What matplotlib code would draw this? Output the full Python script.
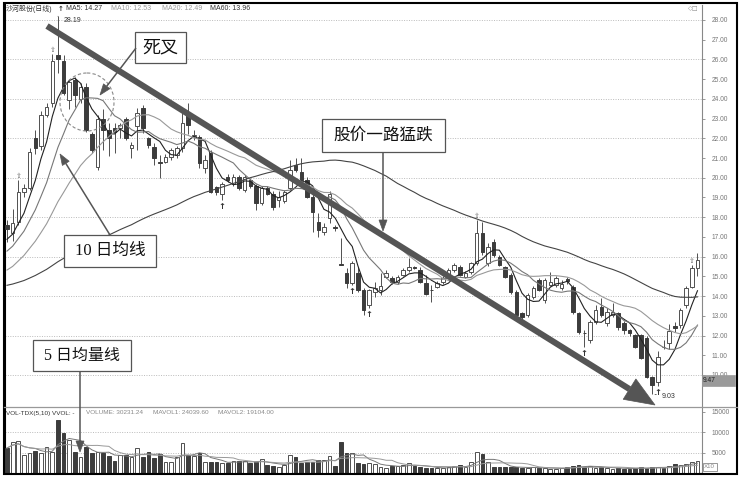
import numpy as np
import pandas as pd
import matplotlib
matplotlib.use('Agg')
import matplotlib.pyplot as plt
from matplotlib.patches import Rectangle, Ellipse, Polygon
from matplotlib.lines import Line2D
from matplotlib.transforms import Affine2D

plt.rcParams['font.family'] = ['Liberation Sans', 'Noto Sans CJK SC', 'DejaVu Sans']

# closes before the first visible day (only used to warm up the moving averages)
lead_close = [13.9, 14.1, 14.0, 13.8, 13.7, 13.9, 14.2, 14.4, 14.3, 14.1,
              14.0, 14.2, 14.5, 14.6, 14.4, 14.2, 14.0, 13.9, 14.1, 14.3,
              14.5, 14.4, 14.2, 14.0, 13.8, 13.9, 14.1, 14.3, 14.4, 14.2,
              14.0, 14.1, 14.3, 14.4, 14.2, 14.1, 14.0, 14.2, 14.4, 14.3,
              14.0, 13.8, 13.9, 14.1, 14.3, 14.5, 14.6, 14.8, 14.7, 14.9,
              15.2, 15.5, 15.7, 15.9, 16.1, 16.4, 16.6, 16.9, 17.1]

# daily OHLC, 沙河股份
opens = [17.60, 17.20, 17.75, 19.30, 19.50, 22.00, 21.60, 23.20, 23.80, 26.20,
         25.90, 23.95, 24.95, 24.00, 24.60, 22.20, 20.55, 23.00, 22.40, 22.50,
         22.50, 23.00, 21.50, 22.60, 23.55, 22.00, 21.55, 20.80, 20.80, 21.05,
         21.15, 21.50, 23.20, 22.10, 22.05, 20.50, 21.25, 19.55, 19.20, 20.05,
         19.70, 20.05, 19.40, 19.90, 19.60, 18.70, 19.50, 19.20, 18.87, 18.80,
         19.50, 20.65, 20.30, 19.90, 19.00, 17.75, 17.25, 17.95, 17.50, 15.65,
         15.17, 14.66, 15.17, 14.30, 13.55, 14.20, 14.30, 14.96, 14.90, 14.70,
         15.07, 15.30, 15.47, 15.30, 14.67, 14.32, 14.46, 14.70, 15.07, 15.30,
         15.47, 14.96, 15.20, 15.68, 17.20, 15.68, 16.75, 15.98, 15.47, 15.07,
         14.20, 13.14, 13.04, 13.95, 14.80, 13.80, 14.56, 14.56, 14.40, 14.85,
         14.46, 13.14, 12.15, 11.77, 12.69, 13.45, 12.64, 13.04, 13.14, 12.64,
         12.28, 12.03, 12.03, 11.87, 9.90, 9.65, 11.42, 11.62, 12.48, 12.53,
         13.55, 14.46, 15.42]
highs = [17.85, 18.40, 19.90, 19.70, 21.50, 22.40, 23.40, 23.80, 26.30, 28.19,
         26.20, 25.00, 25.10, 24.80, 24.80, 22.30, 23.20, 23.50, 22.80, 22.80,
         22.80, 23.10, 21.80, 23.55, 23.70, 22.05, 21.75, 21.15, 21.20, 21.50,
         21.60, 23.50, 23.80, 22.40, 22.15, 21.15, 21.40, 19.60, 19.80, 20.20,
         20.20, 20.15, 20.15, 20.00, 19.70, 19.60, 19.60, 19.35, 19.35, 19.40,
         20.90, 21.00, 21.00, 20.05, 19.20, 18.20, 17.70, 19.35, 17.60, 16.95,
         15.40, 15.80, 15.45, 14.40, 14.35, 14.70, 15.17, 15.30, 15.00, 15.05,
         15.40, 15.93, 15.55, 15.47, 15.07, 14.56, 14.75, 15.00, 15.40, 15.70,
         15.60, 15.25, 15.75, 17.86, 17.76, 16.70, 16.90, 16.10, 15.55, 15.15,
         14.30, 13.20, 14.15, 14.50, 14.90, 14.90, 15.20, 15.00, 14.80, 14.95,
         14.56, 13.20, 12.30, 12.80, 13.55, 13.90, 13.40, 13.65, 13.20, 12.75,
         12.35, 12.10, 12.10, 11.95, 9.95, 11.20, 11.75, 12.60, 12.70, 13.40,
         14.50, 15.60, 16.20]
lows = [16.75, 16.80, 17.60, 19.00, 19.40, 21.20, 21.40, 23.10, 23.60, 25.30,
        24.20, 23.50, 23.60, 23.80, 22.30, 21.25, 20.40, 21.40, 21.10, 21.25,
        22.00, 21.90, 21.00, 21.40, 22.25, 21.50, 20.65, 20.00, 20.75, 20.90,
        21.00, 21.30, 22.20, 21.90, 20.50, 20.25, 19.25, 19.10, 18.87, 19.80,
        19.60, 19.40, 19.30, 19.50, 18.35, 18.60, 19.10, 18.35, 18.50, 18.70,
        19.40, 20.30, 19.80, 18.95, 17.25, 17.00, 17.10, 17.70, 17.30, 15.58,
        14.40, 14.55, 14.20, 13.04, 13.40, 13.95, 14.05, 14.90, 14.60, 14.60,
        15.00, 15.20, 15.35, 14.65, 14.05, 13.70, 14.40, 14.60, 15.00, 15.20,
        15.00, 14.90, 15.10, 15.60, 16.10, 15.55, 16.00, 15.55, 14.90, 14.10,
        12.95, 12.79, 12.95, 13.85, 14.25, 13.65, 14.50, 14.45, 14.30, 14.60,
        13.10, 12.10, 11.40, 11.60, 12.60, 12.95, 12.50, 12.95, 12.30, 12.10,
        12.00, 11.35, 10.80, 9.85, 9.03, 9.45, 11.30, 11.30, 12.20, 12.40,
        13.40, 14.40, 15.00]
closes = [17.40, 17.70, 19.30, 19.50, 21.30, 21.50, 23.20, 23.60, 25.90, 26.00,
          24.30, 24.85, 24.20, 24.60, 22.40, 21.40, 23.00, 22.40, 22.00, 22.30,
          22.65, 22.00, 21.65, 23.30, 22.50, 21.66, 21.00, 20.75, 21.05, 21.40,
          21.50, 22.80, 22.65, 22.15, 20.75, 20.90, 19.30, 19.30, 19.70, 19.90,
          20.05, 19.50, 20.05, 19.60, 18.70, 19.50, 19.20, 18.50, 19.00, 19.30,
          20.40, 20.40, 19.90, 19.00, 18.25, 17.35, 17.50, 19.20, 17.45, 15.60,
          14.66, 15.68, 14.30, 13.30, 14.30, 14.40, 14.50, 15.17, 14.70, 14.96,
          15.32, 15.47, 15.43, 14.70, 14.10, 14.30, 14.66, 14.90, 15.32, 15.57,
          15.07, 15.17, 15.68, 17.20, 16.24, 16.50, 16.10, 15.60, 14.95, 14.20,
          13.04, 12.94, 14.05, 14.40, 14.30, 14.80, 14.70, 14.90, 14.60, 14.75,
          13.20, 12.18, 12.13, 12.69, 13.30, 13.04, 13.20, 13.19, 12.43, 12.28,
          12.11, 11.40, 10.86, 9.90, 9.50, 10.90, 11.40, 12.25, 12.38, 13.30,
          14.40, 15.42, 15.85]
volumes = [6100, 7500, 7800, 4400, 4900, 5300, 4900, 6300, 5100, 12900,
           9750, 8050, 5100, 3900, 6300, 4900, 5100, 4900, 4150, 2900,
           4400, 4400, 3900, 6100, 3900, 5100, 3650, 4650, 2700, 2700,
           3900, 7300, 4400, 4150, 4900, 2700, 2700, 2700, 2450, 2450,
           2900, 2900, 2900, 2450, 2700, 3400, 1950, 1700, 1460, 1950,
           4400, 3900, 2450, 2700, 2700, 3170, 3170, 4150, 1700, 7560,
           4900, 4900, 2450, 2200, 2450, 2200, 1460, 1200, 1700, 1700,
           1950, 2450, 1700, 1460, 1200, 1200, 1200, 1200, 1460, 1700,
           1950, 1460, 2700, 5100, 4650, 2700, 1460, 1460, 1460, 1460,
           1460, 1200, 1200, 1460, 1200, 1200, 1000, 1000, 1200, 1460,
           1700, 1950, 1460, 1700, 1200, 1460, 1200, 1000, 1200, 1000,
           1000, 1200, 1460, 1200, 1400, 1500, 1284.2, 1700, 2100, 1900,
           2300, 2696.676, 3023.124]

# system signal marks
buy_marks = [38, 61, 64, 102, 115]
top_marks = [2, 8, 83, 121]

ma_periods = [5, 10, 20, 60]
ma_colors = ['#222222', '#777777', '#999999', '#444444']

n = len(closes)
x = np.arange(n)
full = pd.Series(lead_close + closes)
mas = {p: full.rolling(p).mean().to_numpy()[len(lead_close):] for p in ma_periods}
vol = pd.Series(volumes)
mavol1 = vol.rolling(5, min_periods=1).mean().to_numpy()
mavol2 = vol.rolling(10, min_periods=1).mean().to_numpy()

W, H = 739, 478
fig = plt.figure(figsize=(W / 100, H / 100), dpi=100)
fig.patch.set_facecolor('white')
# pixel space with y pointing down, for the overlay notes
px = Affine2D().scale(1 / W, -1 / H).translate(0, 1) + fig.transFigure


def rect(x0, y0, x1, y1):
    return [x0 / W, 1 - y1 / H, (x1 - x0) / W, (y1 - y0) / H]


ax = fig.add_axes(rect(5, 5, 702, 407))
axv = fig.add_axes(rect(5, 407, 702, 473))

DARK = '#3c3c3c'
EDGE = '#505050'
bw = 0.62

# candles
for i in range(n):
    o, h, l, c = opens[i], highs[i], lows[i], closes[i]
    up = c >= o
    ax.vlines(i, l, h, color=EDGE, lw=0.7, zorder=2)
    bot, top = min(o, c), max(o, c)
    ax.add_patch(Rectangle((i - bw / 2, bot), bw, max(top - bot, 0.02),
                           facecolor='white' if up else DARK,
                           edgecolor=EDGE if up else DARK, lw=0.7, zorder=3))

for p, col in zip(ma_periods, ma_colors):
    ax.plot(x, mas[p], color=col, lw=0.8, zorder=4)

for i in buy_marks:
    ax.text(i, lows[i] - 0.1, '↑', ha='center', va='top', fontsize=6,
            fontweight='bold', color='#333333', family='DejaVu Sans', zorder=5)
for i in top_marks:
    ax.text(i, highs[i] + 0.05, '⇧', ha='center', va='bottom', fontsize=5,
            color='#666666', family='DejaVu Sans', zorder=5)

hi = int(np.argmax(highs))
lo = int(np.argmin(lows))
ax.annotate(f'{highs[hi]:.2f}', xy=(hi, highs[hi]), xytext=(4, -3),
            textcoords='offset points', fontsize=5, color='#333333', va='center',
            arrowprops=dict(arrowstyle='-', lw=0.5, color='#333333'))
ax.annotate(f'{lows[lo]:.2f}', xy=(lo, lows[lo]), xytext=(7, -1.5),
            textcoords='offset points', fontsize=5, color='#333333', va='center',
            arrowprops=dict(arrowstyle='-', lw=0.5, color='#333333'))

ax.set_xlim(-0.35, 122.8)
ax.set_ylim(8.375, 28.76)
for g in range(10, 29, 2):
    ax.axhline(g, color='#bbbbbb', lw=0.7, ls=(0, (1, 1.5)), zorder=1)
ax.set_yticks(range(10, 29))
ax.set_yticklabels([f'{t:.2f}' for t in range(10, 29)])

# volume panel
for i in range(n):
    up = closes[i] >= opens[i]
    axv.add_patch(Rectangle((i - 0.33, 0), 0.66, volumes[i],
                            facecolor='white' if up else DARK,
                            edgecolor=EDGE if up else DARK, lw=0.7, zorder=3))
axv.plot(x, mavol1, color='#777777', lw=0.7, zorder=4)
axv.plot(x, mavol2, color='#999999', lw=0.7, zorder=4)
axv.set_xlim(-0.35, 122.8)
axv.set_ylim(0, 16100)
for g in (5000, 10000):
    axv.axhline(g, color='#bbbbbb', lw=0.7, ls=(0, (1, 1.5)), zorder=1)
axv.set_yticks([5000, 10000, 15000])
axv.set_yticklabels(['5000', '10000', '15000'])

for a in (ax, axv):
    a.set_xticks([])
    a.yaxis.tick_right()
    a.tick_params(axis='y', length=2, width=0.6, color='#888888', labelsize=4.8,
                  labelcolor='#777777', pad=5)
    a.spines['left'].set_color('black')
    a.spines['left'].set_linewidth(1.5)
    a.spines['right'].set_color('#888888')
    a.spines['right'].set_linewidth(0.8)
ax.spines['top'].set_visible(False)
ax.spines['bottom'].set_visible(False)
axv.spines['top'].set_visible(False)
axv.spines['bottom'].set_color('black')

# outer frame and panel divider
fig.add_artist(Rectangle((4, 3), 733, 471, transform=px, fill=False, ec='black', lw=1.5))
fig.add_artist(Line2D([4, 737], [407, 407], transform=px, color='#999999', lw=0.9))

# headers
def label(xp, yp, s, color='#444444', size=5, **kw):
    fig.text(xp / W, 1 - yp / H, s, fontsize=size, color=color, va='center', ha='left', **kw)

label(6, 9, '沙河股份(日线)', color='#333333', size=5)
label(58, 9, '↑', color='#333333', size=5, family='DejaVu Sans', fontweight='bold')
label(66, 9, f'MA5: {mas[5][-1]:.2f}', color='#333333')
label(111, 9, f'MA10: {mas[10][-1]:.2f}', color='#999999')
label(162, 9, f'MA20: {mas[20][-1]:.2f}', color='#999999')
label(210, 9, f'MA60: {mas[60][-1]:.2f}', color='#333333')
label(688, 9, '◇□', color='#888888', size=4.5, family='DejaVu Sans')

label(6, 413, 'VOL-TDX(5,10) VVOL: -', color='#333333', size=4.6)
label(86, 413, f'VOLUME: {volumes[-1] * 10:.2f}', color='#888888', size=4.6)
label(153, 413, f'MAVOL1: {mavol1[-1] * 10:.2f}', color='#888888', size=4.6)
label(218, 413, f'MAVOL2: {mavol2[-1] * 10:.2f}', color='#888888', size=4.6)

# current price tag and unit tag on the right scale
fig.add_artist(Rectangle((702, 375), 33, 11, transform=px, fc='#9a9a9a', ec='#9a9a9a', lw=0.5))
label(703, 380.5, '9.47', color='#222222', size=4.8)
fig.add_artist(Rectangle((703, 463), 14, 8, transform=px, fc='white', ec='#888888', lw=0.6))
label(704, 467, 'X10', color='#888888', size=4.4)


def arrow(x0, y0, x1, y1, lw, hl, hw, color):
    d = np.array([x1 - x0, y1 - y0], float)
    u = d / np.hypot(*d)
    nrm = np.array([-u[1], u[0]])
    base = np.array([x1, y1]) - u * hl
    fig.add_artist(Line2D([x0, base[0]], [y0, base[1]], transform=px, lw=lw,
                          color=color, solid_capstyle='butt'))
    fig.add_artist(Polygon([[x1, y1], base + nrm * hw / 2, base - nrm * hw / 2],
                           closed=True, transform=px, fc=color, ec=color, lw=0.5))


def note(s, x0, y0, x1, y1, size):
    fig.add_artist(Rectangle((x0, y0), x1 - x0, y1 - y0, transform=px,
                             fc='white', ec='#555555', lw=0.9))
    fig.text((x0 + x1) / 2 / W, 1 - (y0 + y1) / 2 / H, s, fontsize=size,
             ha='center', va='center', color='#111111',
             family=['Liberation Serif', 'Noto Sans CJK SC'])


# trend arrow
arrow(47, 26, 655, 405, 4.4, 30, 24, '#555555')

# dead-cross circle
fig.add_artist(Ellipse((87, 102), 54, 58, transform=px, fill=False, ec='#888888',
                       lw=0.8, ls=(0, (3, 2))))

arrow(136, 48, 100, 95, 1.1, 11, 8, '#555555')
note('死叉', 135, 32, 186, 63, 13)

arrow(383, 152, 383, 231, 1.1, 11, 8, '#555555')
note('股价一路猛跌', 322, 119, 445, 152, 12)

arrow(110, 235, 60, 154, 1.1, 11, 8, '#555555')
note('10 日均线', 64, 235, 156, 267, 12)

arrow(80, 371, 80, 452, 1.1, 11, 8, '#555555')
note('5 日均量线', 33, 340, 131, 371, 11.5)

fig.savefig('out.png', dpi=100)
